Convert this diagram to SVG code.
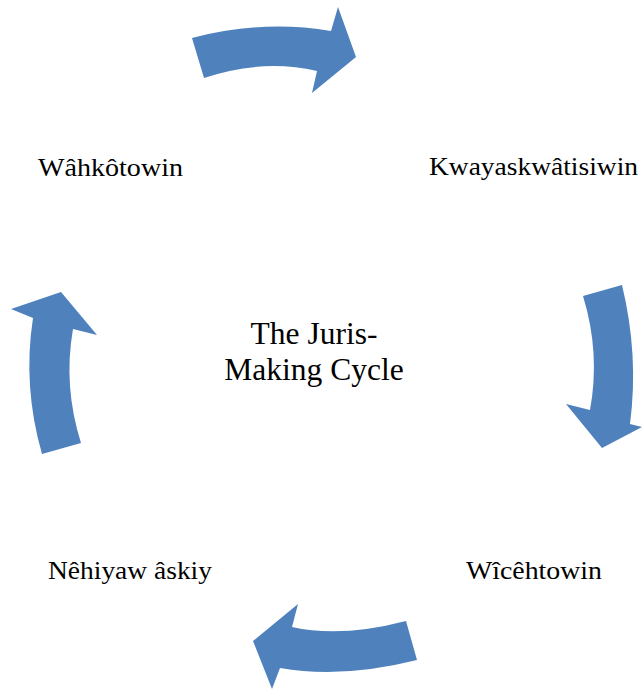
<svg xmlns="http://www.w3.org/2000/svg" width="642" height="689" viewBox="0 0 642 689">
<style>
.arrow{fill:#4F81BD;stroke:none}
.lbl{font-family:"Liberation Serif","DejaVu Serif",serif;font-size:26px;fill:#000}
.ctr{font-family:"Liberation Serif","Times New Roman",serif;font-size:31.5px;fill:#000;text-anchor:middle}
</style>
<rect x="0" y="0" width="642" height="689" fill="#fff"/>
<g id="connectors">
<path class="arrow" d="M192,38 Q262,19.5 331,31 L338,7 L356,57 L312,93 L317,71 Q262,58.5 204,78 Z"/>
<path class="arrow" d="M583,296 L622,285 Q639,355 630,424 L642,427 L602,448 L566,404 L590,410 Q600.5,353 583,296 Z"/>
<path class="arrow" d="M406,621 L417,660 Q341.5,679 280,668 L272,689 L253,641 L298,604 L292,627 Q341,638 406,621 Z"/>
<path class="arrow" d="M42,454 L81,443 Q63,386 73,329 L97,335 L61,292 L11,309 L33,318 Q22.5,386 42,454 Z"/>
</g>
<g id="center">
<text class="ctr" x="314" y="344">The Juris-</text>
<text class="ctr" x="314" y="380">Making Cycle</text>
</g>
<g id="node-wahkotowin"><text class="lbl" x="38" y="176" textLength="145" lengthAdjust="spacingAndGlyphs">Wâhkôtowin</text></g>
<g id="node-kwayaskwatisiwin"><text class="lbl" x="429" y="175" textLength="209" lengthAdjust="spacingAndGlyphs">Kwayaskwâtisiwin</text></g>
<g id="node-wicehtowin"><text class="lbl" x="466" y="579" textLength="136" lengthAdjust="spacingAndGlyphs">Wîcêhtowin</text></g>
<g id="node-nehiyaw-askiy"><text class="lbl" x="48" y="579" textLength="164" lengthAdjust="spacingAndGlyphs">Nêhiyaw âskiy</text></g>
</svg>
